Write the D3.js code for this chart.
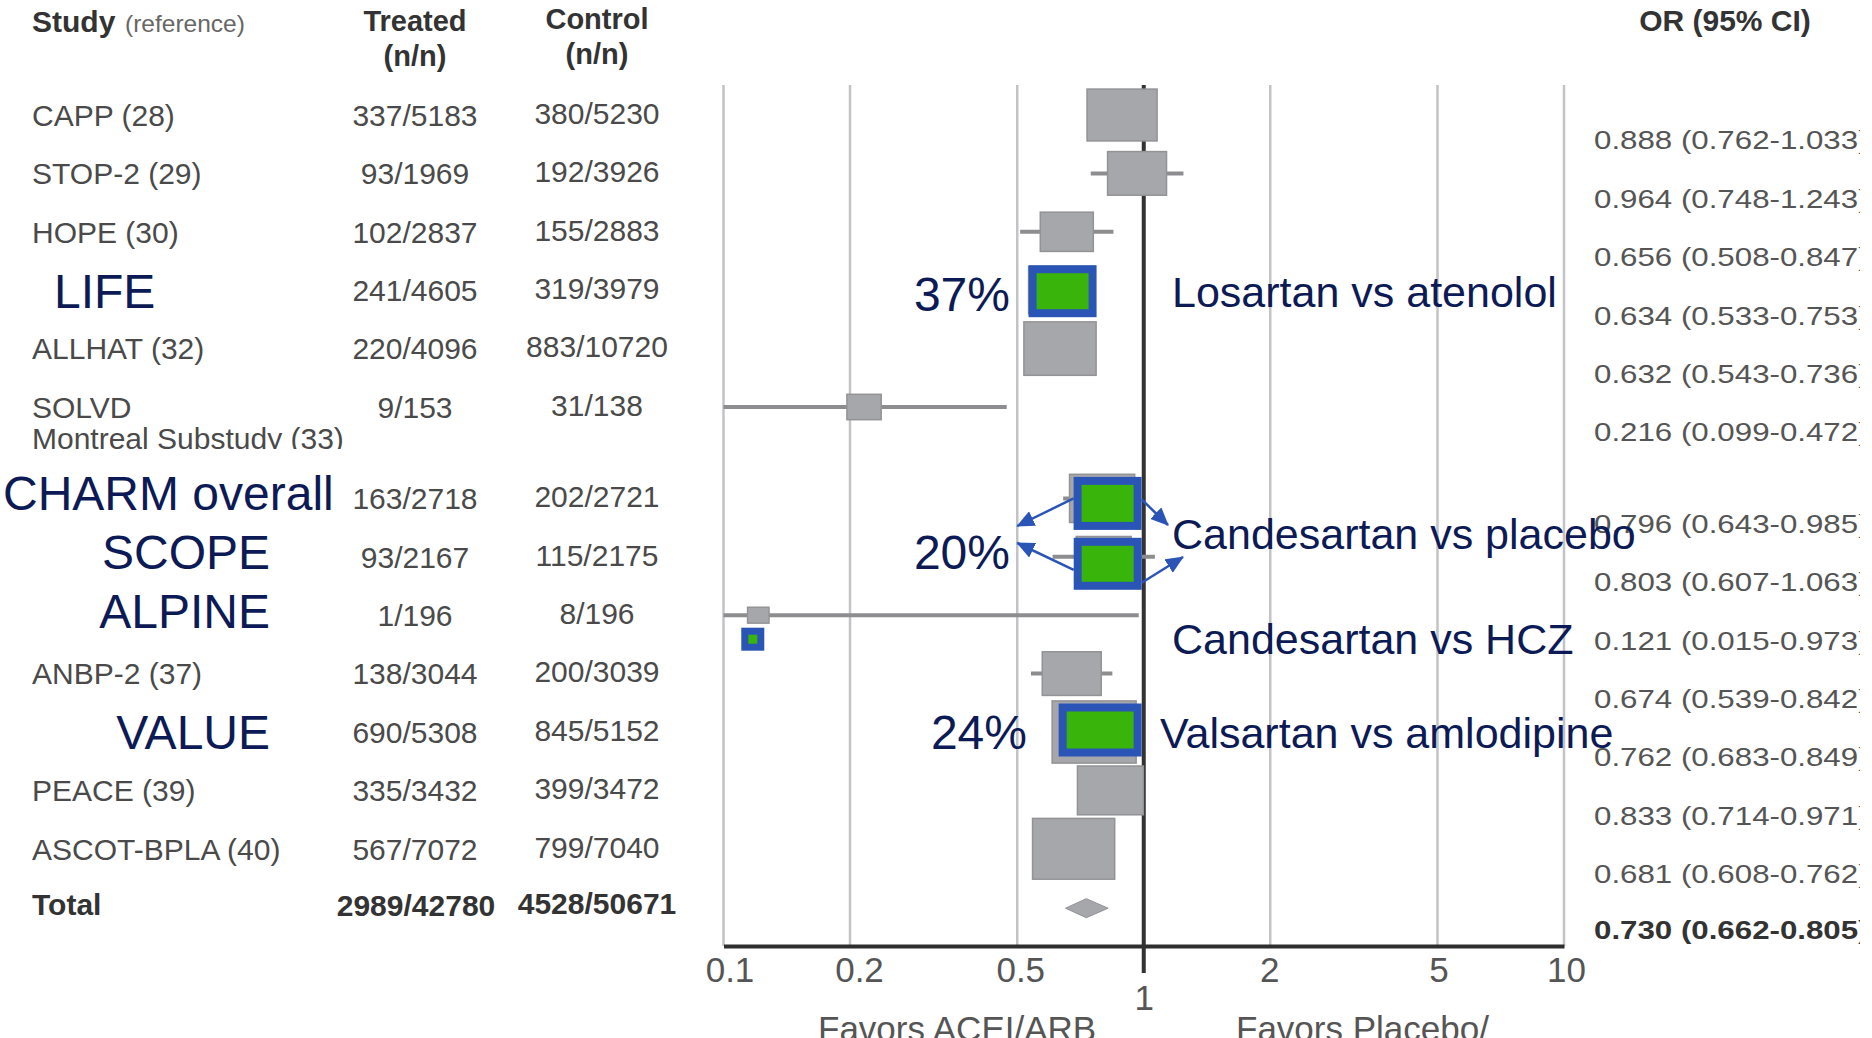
<!DOCTYPE html>
<html>
<head>
<meta charset="utf-8">
<script src="https://cdn.jsdelivr.net/npm/d3@7"></script>
<style>
  html, body { margin: 0; padding: 0; background: #ffffff; }
  svg { display: block; font-family: "Liberation Sans", Arial, Helvetica, sans-serif; }
</style>
</head>
<body>
<svg id="chart" width="1872" height="1038"></svg>
<script>
// ---- Study data -------------------------------------------------------
const studies = [
  "CAPP (28)", "STOP-2 (29)", "HOPE (30)", "LIFE", "ALLHAT (32)",
  "SOLVD|Montreal Substudy (33)", "CHARM overall", "SCOPE", "ALPINE",
  "ANBP-2 (37)", "VALUE", "PEACE (39)", "ASCOT-BPLA (40)"
];
const treated = [
  "337/5183", "93/1969", "102/2837", "241/4605", "220/4096", "9/153",
  "163/2718", "93/2167", "1/196", "138/3044", "690/5308", "335/3432", "567/7072"
];
const control = [
  "380/5230", "192/3926", "155/2883", "319/3979", "883/10720", "31/138",
  "202/2721", "115/2175", "8/196", "200/3039", "845/5152", "399/3472", "799/7040"
];
const oddsRatio = [0.888, 0.964, 0.656, 0.634, 0.632, 0.216, 0.796, 0.803, 0.121, 0.674, 0.762, 0.833, 0.681];
const ciLow     = [0.762, 0.748, 0.508, 0.533, 0.543, 0.099, 0.643, 0.607, 0.015, 0.539, 0.683, 0.714, 0.608];
const ciHigh    = [1.033, 1.243, 0.847, 0.753, 0.736, 0.472, 0.985, 1.063, 0.973, 0.842, 0.849, 0.971, 0.762];
// relative study weight (%), drives the box area
const weights   = [9.6, 6.8, 5.5, 8.0, 10.2, 2.3, 8.3, 5.9, 0.9, 6.8, 13.8, 8.5, 13.2];

const totalTreated = "2989/42780";
const totalControl = "4528/50671";
const totalOR = 0.730, totalLow = 0.662, totalHigh = 0.805;

const tickValues = [0.1, 0.2, 0.5, 1, 2, 5, 10];

// ARB trials called out on the plot
const featured = ["LIFE", "CHARM overall", "SCOPE", "ALPINE", "VALUE"];
const comparisons = [
  { studies: ["LIFE"], text: "Losartan vs atenolol" },
  { studies: ["CHARM overall", "SCOPE"], text: "Candesartan vs placebo" },
  { studies: ["ALPINE"], text: "Candesartan vs HCZ" },
  { studies: ["VALUE"], text: "Valsartan vs amlodipine" }
];

// ---- Layout -----------------------------------------------------------
const svg = d3.select("#chart");
const NAVY = "#0c1a55", BLUE = "#2a55b6", GREEN = "#38b40a";
const GRAY_TXT = "#4a4a4a", BOX = "#a6a7ab", BOX_EDGE = "#939396";

const x = d3.scaleLog().domain([0.1, 10]).range([723.5, 1564]).clamp(true);
const ROW0 = 115, ROWSTEP = 58.4, GAP = 33, GAP_AFTER = 6;
const rowY = i => ROW0 + i * ROWSTEP + (i >= GAP_AFTER ? GAP : 0);
const boxW = d3.scaleSqrt().domain([0, d3.max(weights)]).range([0, 84]);
const ASPECT = 0.74;
const plotTop = 85, axisY = 946;
const idx = name => studies.indexOf(name);

svg.append("rect").attr("width", 1872).attr("height", 1038).attr("fill", "#fff");

const defs = svg.append("defs");
defs.append("clipPath").attr("id", "clipRight")
  .append("rect").attr("x", 0).attr("y", 0).attr("width", 1860).attr("height", 1038);
defs.append("clipPath").attr("id", "clipSub")
  .append("rect").attr("x", 0).attr("y", 0).attr("width", 1872).attr("height", 449);
defs.append("marker").attr("id", "arrow")
  .attr("markerUnits", "userSpaceOnUse").attr("markerWidth", 18).attr("markerHeight", 16)
  .attr("viewBox", "0 0 18 16").attr("refX", 17).attr("refY", 8).attr("orient", "auto")
  .append("path").attr("d", "M0,0 L18,8 L0,16 Z").attr("fill", BLUE);

// ---- Table headers ----------------------------------------------------
const head = svg.append("g").attr("fill", "#333");
head.append("text").attr("x", 32).attr("y", 32).attr("font-size", 30).attr("font-weight", "bold").text("Study");
head.append("text").attr("x", 125).attr("y", 32).attr("font-size", 24.5).attr("fill", "#666").text("(reference)");
[["Treated", 415, 31], ["(n/n)", 415, 66], ["Control", 597, 29], ["(n/n)", 597, 64]].forEach(([t, cx, by]) =>
  head.append("text").attr("x", cx).attr("y", by).attr("text-anchor", "middle")
    .attr("font-size", 29).attr("font-weight", "bold").text(t));
head.append("text").attr("x", 1725).attr("y", 31).attr("text-anchor", "middle")
  .attr("font-size", 30).attr("font-weight", "bold").text("OR (95% CI)");

// ---- Left table --------------------------------------------------------
const CAP = 0.358; // half cap height (em) for vertical centring
const table = svg.append("g").attr("font-size", 30).attr("fill", GRAY_TXT);
studies.forEach((s, i) => {
  if (featured.includes(s)) return;
  const parts = s.split("|");
  const by = rowY(i) + 30 * CAP;
  table.append("text").attr("x", 32).attr("y", by).text(parts[0]);
  if (parts[1]) {
    table.append("text").attr("x", 32).attr("y", by + 31).attr("clip-path", "url(#clipSub)").text(parts[1]);
  }
});
table.selectAll("text.tr").data(treated).join("text").attr("class", "tr")
  .attr("x", 415).attr("y", (d, i) => rowY(i) + 30 * CAP).attr("text-anchor", "middle").text(d => d);
table.selectAll("text.ct").data(control).join("text").attr("class", "ct")
  .attr("x", 597).attr("y", (d, i) => rowY(i) + 30 * CAP - 2).attr("text-anchor", "middle").text(d => d);

const totalRow = rowY(studies.length);
const totalText = (t, tx, dy, anchor) => table.append("text").attr("x", tx).attr("y", totalRow + 30 * CAP + dy)
  .attr("font-size", 30).attr("font-weight", "bold").attr("fill", "#333")
  .attr("text-anchor", anchor).text(t);
totalText("Total", 32, -3, "start");
totalText(totalTreated, 416, -2, "middle");
totalText(totalControl, 597, -4, "middle");

// featured trial names in slide blue
const featLayout = {
  "LIFE": { x: 54, anchor: "start", dy: 1 },
  "CHARM overall": { x: 3, anchor: "start", dy: -6 },
  "SCOPE": { x: 270, anchor: "end", dy: -5 },
  "ALPINE": { x: 270, anchor: "end", dy: -4 },
  "VALUE": { x: 270, anchor: "end", dy: 0 }
};
featured.forEach(name => {
  const L = featLayout[name];
  svg.append("text").attr("x", L.x).attr("y", rowY(idx(name)) + L.dy + 48 * CAP)
    .attr("text-anchor", L.anchor).attr("font-size", 48).attr("fill", NAVY).text(name);
});

// ---- OR (95% CI) column -------------------------------------------------
const fmt = d3.format(".3f");
const orCol = svg.append("g").attr("clip-path", "url(#clipRight)").attr("fill", "#555");
const orRows = oddsRatio.map((o, i) => ({ text: `${fmt(o)} (${fmt(ciLow[i])}-${fmt(ciHigh[i])})`, y: rowY(i), bold: false }));
orRows.push({ text: `${fmt(totalOR)} (${fmt(totalLow)}-${fmt(totalHigh)})`, y: totalRow - 3, bold: true });
orCol.selectAll("text").data(orRows).join("text")
  .attr("transform", d => `translate(1594,${d.y + 25 + 26.5 * CAP}) scale(1.18,1)`)
  .attr("font-size", 26.5)
  .attr("font-weight", d => d.bold ? "bold" : "normal")
  .attr("fill", d => d.bold ? "#333" : "#555")
  .text(d => d.text);

// ---- Forest plot --------------------------------------------------------
const plot = svg.append("g");
plot.append("g").selectAll("line").data(tickValues.filter(v => v !== 1)).join("line")
  .attr("x1", d => x(d)).attr("x2", d => x(d))
  .attr("y1", plotTop).attr("y2", axisY)
  .attr("stroke", "#c3c3c7").attr("stroke-width", 2.5);

// x axis
const labelShift = { 0.1: 6, 0.2: 9, 0.5: 3, 1: 0, 2: -1, 5: 1, 10: 2 };
const axis = d3.axisBottom(x).tickValues(tickValues).tickFormat(d => String(d))
  .tickSize(0).tickPadding(11.5);
const axG = plot.append("g").attr("transform", `translate(0,${axisY})`).call(axis);
axG.select(".domain").attr("stroke", "#2e2e2e").attr("stroke-width", 4);
axG.selectAll(".tick text").attr("font-size", 35).attr("fill", "#555")
  .attr("font-family", "\"Liberation Sans\", Arial, sans-serif")
  .attr("x", d => labelShift[d] || 0)
  .attr("y", d => d === 1 ? 39.5 : 11.5);

// line of no effect
plot.append("line").attr("x1", x(1)).attr("x2", x(1)).attr("y1", plotTop).attr("y2", 973)
  .attr("stroke", "#333").attr("stroke-width", 4);

// confidence intervals
plot.append("g").selectAll("line").data(oddsRatio).join("line")
  .attr("x1", (d, i) => x(ciLow[i])).attr("x2", (d, i) => x(ciHigh[i]))
  .attr("y1", (d, i) => rowY(i)).attr("y2", (d, i) => rowY(i))
  .attr("stroke", "#8d8d8f").attr("stroke-width", 4);

// weighted point estimates
plot.append("g").selectAll("rect").data(oddsRatio).join("rect")
  .attr("x", (d, i) => x(d) - boxW(weights[i]) / 2)
  .attr("y", (d, i) => rowY(i) - boxW(weights[i]) * ASPECT / 2)
  .attr("width", (d, i) => boxW(weights[i]))
  .attr("height", (d, i) => boxW(weights[i]) * ASPECT)
  .attr("fill", BOX).attr("stroke", BOX_EDGE).attr("stroke-width", 1.5);

// pooled estimate
const ty = totalRow + 1;
plot.append("path")
  .attr("d", `M${x(totalLow) - 3},${ty} L${x(totalOR)},${ty - 9.5} L${x(totalHigh) + 4},${ty} L${x(totalOR)},${ty + 9.5} Z`)
  .attr("fill", BOX).attr("stroke", BOX_EDGE).attr("stroke-width", 1);

// axis captions
svg.append("text").attr("x", 818).attr("y", 1041).attr("font-size", 35).attr("fill", "#555").text("Favors ACEI/ARB");
svg.append("text").attr("x", 1236).attr("y", 1041).attr("font-size", 35).attr("fill", "#555").text("Favors Placebo/");

// ---- ARB highlights -------------------------------------------------------
const hlLayout = {
  "LIFE": { w: 68, h: 52, dx: 2, dy: 1 },
  "CHARM overall": { w: 68, h: 53, dx: 5.5, dy: 5 },
  "SCOPE": { w: 68, h: 52, dx: 4, dy: 7 },
  "ALPINE": { w: 23, h: 23, dx: -5.5, dy: 24 },
  "VALUE": { w: 83, h: 53, dx: 6, dy: -2 }
};
const hlBox = {};
featured.forEach(name => {
  const i = idx(name), L = hlLayout[name];
  const cx = x(oddsRatio[i]) + L.dx, cy = rowY(i) + L.dy;
  const sw = name === "ALPINE" ? 7 : 8;
  hlBox[name] = { left: cx - L.w / 2, right: cx + L.w / 2, top: cy - L.h / 2, bottom: cy + L.h / 2, cy };
  svg.append("rect")
    .attr("x", cx - L.w / 2 + sw / 2).attr("y", cy - L.h / 2 + sw / 2)
    .attr("width", L.w - sw).attr("height", L.h - sw)
    .attr("fill", GREEN).attr("stroke", BLUE).attr("stroke-width", sw);
});

// percentage risk reductions, derived from the odds ratios
const pct = name => `${Math.round((1 - oddsRatio[idx(name)]) * 100)}%`;
const pctLayout = [
  { name: "LIFE", x: 1010, y: rowY(idx("LIFE")) + 4 },
  { name: "CHARM overall", x: 1010, y: (rowY(idx("CHARM overall")) + rowY(idx("SCOPE"))) / 2 + 24 },
  { name: "VALUE", x: 1027, y: rowY(idx("VALUE")) }
];
pctLayout.forEach(p => svg.append("text").attr("x", p.x).attr("y", p.y + 48 * CAP)
  .attr("text-anchor", "end").attr("font-size", 48).attr("fill", NAVY).text(pct(p.name)));

// comparison labels
const cmpLayout = [
  { x: 1172, y: rowY(idx("LIFE")) + 1 },
  { x: 1172, y: 534 },
  { x: 1172, y: 639 },
  { x: 1160, y: rowY(idx("VALUE")) + 1 }
];
comparisons.forEach((c, k) => svg.append("text")
  .attr("x", cmpLayout[k].x).attr("y", cmpLayout[k].y + 43 * CAP)
  .attr("font-size", 43).attr("fill", NAVY).text(c.text));

// arrows linking the candesartan boxes to their labels
const ch = hlBox["CHARM overall"], sc = hlBox["SCOPE"];
const arrows = [
  [ch.left, ch.cy - 5, x(0.5), 526],
  [sc.left, sc.cy + 6, x(0.5), 543],
  [ch.right, ch.cy - 4, 1168, 525],
  [sc.right, sc.bottom - 7, 1183, 557]
];
svg.append("g").selectAll("line").data(arrows).join("line")
  .attr("x1", d => d[0]).attr("y1", d => d[1]).attr("x2", d => d[2]).attr("y2", d => d[3])
  .attr("stroke", BLUE).attr("stroke-width", 2.5).attr("marker-end", "url(#arrow)");
</script>
</body>
</html>
